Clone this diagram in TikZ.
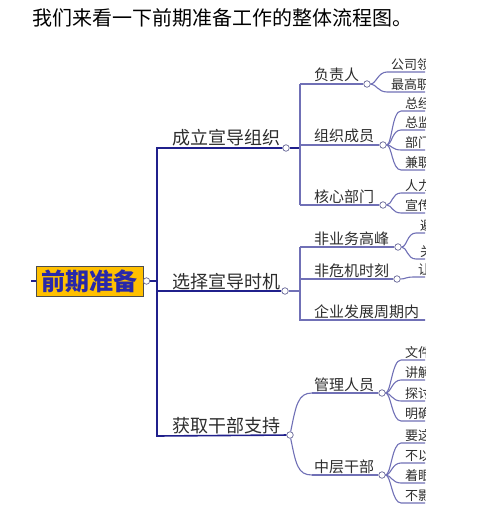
\documentclass[tikz,border=0pt]{standalone}
\usepackage{fontspec}
\setmainfont{Noto Sans CJK SC}
\definecolor{navy}{RGB}{32,32,140}
\definecolor{lav}{RGB}{112,112,182}
\definecolor{dotc}{RGB}{100,100,150}
\definecolor{txt}{RGB}{45,45,45}
\definecolor{gold}{RGB}{255,192,0}
\definecolor{roottxt}{RGB}{40,40,170}
\newcommand\myleaf[5]{%
  \coordinate (#1) at (#4,#3);
  \coordinate (#1e) at (440,#3);
  \draw[l2line] (#2) .. controls +(9,0) and +(-9,0) .. (#1) -- (#1e);
  \node[t3] (#1t) at (#4+4,#3-2.5) {#5};}
\begin{document}
\begin{tikzpicture}[x=1pt,y=-1pt,
  l1line/.style={draw=navy,line width=1.6pt},
  l2line/.style={draw=lav,line width=1.1pt},
  dot/.style={circle,draw=dotc,fill=white,inner sep=0pt,minimum size=6.5pt,line width=0.7pt},
  t1/.style={anchor=base west,inner sep=0pt,text=txt,font=\fontsize{18}{18}\selectfont},
  t2/.style={anchor=base west,inner sep=0pt,text=txt,font=\fontsize{15}{15}\selectfont},
  t3/.style={anchor=base west,inner sep=0pt,text=txt,font=\fontsize{13}{13}\selectfont},
  rootbox/.style={draw=black!70,fill=gold,line width=0.7pt,minimum width=107pt,minimum height=30pt,inner sep=0pt,text=roottxt,font=\fontsize{24}{24}\selectfont\bfseries},
  ttl/.style={anchor=base west,inner sep=0pt,text=black,font=\fontsize{20}{20}\selectfont}]
\useasboundingbox (0,0) rectangle (500,521);
\node[ttl] (title) at (32,26) {我们来看一下前期准备工作的整体流程图。};
\begin{scope}
\clip (0,0) rectangle (425,521);
% root
\node[rootbox] (root) at (89.5,281) {前期准备};
\coordinate (rstub) at (31,281);
\draw[l1line] (rstub) -- (root.west);
\node[dot] (rdot) at (146.5,281) {};
\coordinate (tj) at (157,281);
\draw[l1line] (rdot) -- (tj);
% trunk and level 1
\coordinate (tt) at (157,148);
\coordinate (tm) at (157,291);
\coordinate (tb) at (157,436);
\node[dot] (c1) at (286,148) {};
\node[dot] (c2) at (285,291) {};
\node[dot] (c3) at (290,435) {};
\draw[l1line] (c1) -- (tt) -- (tb) -- (c3);
\draw[l1line] (tm) -- (c2);
\node[t1] (b1) at (172,145) {成立宣导组织};
\node[t1] (b2) at (172,288) {选择宣导时机};
\node[t1] (b3) at (172,432) {获取干部支持};
% sub-trunk 1
\coordinate (s1a) at (300,84);
\coordinate (s1m) at (300,148);
\coordinate (s1b) at (300,145);
\coordinate (s1c) at (300,205);
\draw[l1line] (c1) -- (s1m);
\draw[l2line] (s1a) -- (s1c);
\node[dot] (d11) at (367,84) {};
\node[dot] (d12) at (383,145) {};
\node[dot] (d13) at (383,205) {};
\draw[l2line] (s1a) -- (d11);
\draw[l2line] (s1b) -- (d12);
\draw[l2line] (s1c) -- (d13);
\node[t2] (n11) at (314,81) {负责人};
\node[t2] (n12) at (314,142) {组织成员};
\node[t2] (n13) at (314,202) {核心部门};
\myleaf{e111}{d11}{72}{387}{公司领导}
\myleaf{e112}{d11}{92}{387}{最高职位}
\myleaf{e121}{d12}{111}{401}{总经理}
\myleaf{e122}{d12}{130}{401}{总监}
\myleaf{e123}{d12}{150}{401}{部门}
\myleaf{e124}{d12}{170}{401}{兼职}
\myleaf{e131}{d13}{193}{401}{人力}
\myleaf{e132}{d13}{213}{401}{宣传}
% sub-trunk 2
\coordinate (s2a) at (300,247);
\coordinate (s2m) at (300,291);
\coordinate (s2b) at (300,279);
\coordinate (s2c) at (300,320);
\coordinate (s2e) at (440,320);
\draw[l2line] (c2) -- (s2m);
\draw[l2line] (s2a) -- (s2c) -- (s2e);
\node[dot] (d21) at (398,247) {};
\node[dot] (d22) at (397,279) {};
\draw[l2line] (s2a) -- (d21);
\draw[l2line] (s2b) -- (d22);
\node[t2] (n21) at (314,244) {非业务高峰};
\node[t2] (n22) at (314,276) {非危机时刻};
\node[t2] (n23) at (314,317) {企业发展周期内};
\myleaf{e211}{d21}{233}{416}{避开}
\myleaf{e212}{d21}{259}{416}{关键}
\myleaf{e221}{d22}{277}{414}{让}
% level 2 of branch 3
\coordinate (s3a) at (312,393);
\coordinate (s3b) at (312,475);
\draw[l2line] (c3) .. controls (296,405) and (298,393) .. (s3a);
\draw[l2line] (c3) .. controls (296,465) and (298,475) .. (s3b);
\node[dot] (d31) at (382,393) {};
\node[dot] (d32) at (382,475) {};
\draw[l2line] (s3a) -- (d31);
\draw[l2line] (s3b) -- (d32);
\node[t2] (n31) at (314,390) {管理人员};
\node[t2] (n32) at (314,472) {中层干部};
\myleaf{e311}{d31}{360}{401}{文件}
\myleaf{e312}{d31}{380}{401}{讲解}
\myleaf{e313}{d31}{401}{401}{探讨}
\myleaf{e314}{d31}{421}{401}{明确}
\myleaf{e321}{d32}{443}{401}{要这}
\myleaf{e322}{d32}{463}{401}{不以}
\myleaf{e323}{d32}{483}{401}{着眼}
\myleaf{e324}{d32}{503}{401}{不影}
\end{scope}
\end{tikzpicture}
\end{document}
